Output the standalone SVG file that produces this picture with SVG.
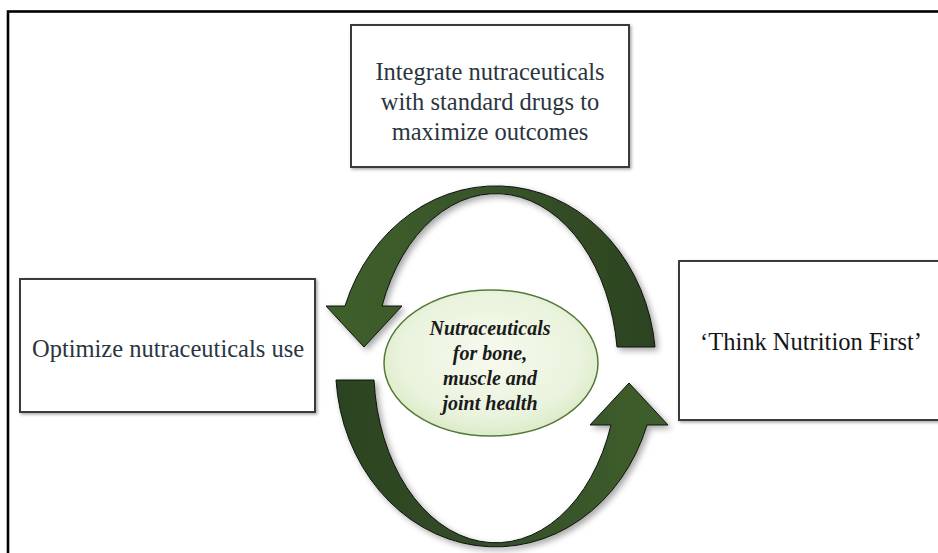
<svg xmlns="http://www.w3.org/2000/svg" width="938" height="553" viewBox="0 0 938 553">
<defs>
<style>
.box{fill:#fff;stroke:#3a3a3a;stroke-width:2;filter:url(#sh)}
.t{font-size:24.5px;fill:#2a3540;text-anchor:middle}
.c{font-size:20px;font-weight:bold;font-style:italic;fill:#1a1a1a;text-anchor:middle}
.arr{stroke:#111;stroke-width:1;stroke-linejoin:miter;filter:url(#sh2)}
</style>
<filter id="sh" x="-10%" y="-10%" width="125%" height="125%">
<feDropShadow dx="1.5" dy="1.5" stdDeviation="1.5" flood-color="#000" flood-opacity="0.35"/>
</filter>
<filter id="sh2" x="-10%" y="-10%" width="125%" height="125%">
<feDropShadow dx="3" dy="3" stdDeviation="3" flood-color="#000" flood-opacity="0.35"/>
</filter>
<linearGradient id="gTop" x1="0" y1="0" x2="1" y2="0">
<stop offset="0" stop-color="#3f5f29"/>
<stop offset="0.5" stop-color="#37552a"/>
<stop offset="1" stop-color="#2c4320"/>
</linearGradient>
<linearGradient id="gBot" x1="0" y1="0" x2="1" y2="0">
<stop offset="0" stop-color="#2c4320"/>
<stop offset="0.5" stop-color="#34502a"/>
<stop offset="1" stop-color="#3f5f29"/>
</linearGradient>
<radialGradient id="gEll" cx="0.5" cy="0.45" r="0.6">
<stop offset="0" stop-color="#f6faef"/>
<stop offset="0.7" stop-color="#eaf3dd"/>
<stop offset="1" stop-color="#d6e8c0"/>
</radialGradient>
</defs>
<rect width="938" height="553" fill="#fff"/>
<rect x="8" y="11.5" width="1000" height="600" fill="none" stroke="#000" stroke-width="2.6"/>

<g id="connectors">
<path class="arr" fill="url(#gTop)" d="M655,347 A160,180 0 0 0 345,306 L326,306 L364,347 L402,306 L382,306 A122,175 0 0 1 617,347 Z"/>
<path class="arr" fill="url(#gBot)" d="M336,380 A160,180 0 0 0 647,425 L668,425 L629,383 L590,425 L611,425 A122,175 0 0 1 374,380 Z"/>
</g>

<g font-family="Liberation Serif, Times New Roman, serif">
<g id="node-top">
<rect class="box" x="351" y="25" width="278" height="142"/>
<text class="t" x="490" y="80">Integrate nutraceuticals</text>
<text class="t" x="490" y="110">with standard drugs to</text>
<text class="t" x="490" y="140">maximize outcomes</text>
</g>

<g id="node-left">
<rect class="box" x="20" y="279" width="295" height="133"/>
<text class="t" x="168" y="357">Optimize nutraceuticals use</text>
</g>

<g id="node-right">
<rect class="box" x="679" y="261" width="300" height="159"/>
<text class="t" x="811" y="350" style="fill:#151515">‘Think Nutrition First’</text>
</g>

<g id="node-center">
<ellipse cx="491" cy="363" rx="107" ry="73" fill="url(#gEll)" stroke="#557a38" stroke-width="1.5"/>
<text class="c" x="490" y="335">Nutraceuticals</text>
<text class="c" x="490" y="360">for bone,</text>
<text class="c" x="490" y="385">muscle and</text>
<text class="c" x="490" y="410">joint health</text>
</g>
</g>
</svg>
